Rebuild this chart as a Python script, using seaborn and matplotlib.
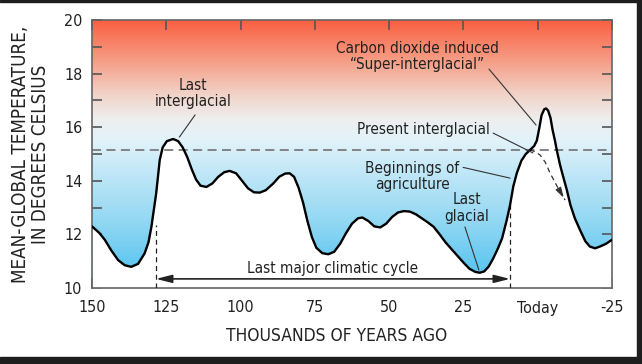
import numpy as np
import matplotlib.pyplot as plt
import seaborn as sns
from matplotlib.colors import LinearSegmentedColormap
from matplotlib.patches import Rectangle

# temperature curve (thousands of years ago, deg C)
years_ago = [150, 147.5, 145.7, 143.5, 141.2, 139, 136.8, 134.5, 132.3, 131, 130,
             128.4, 127.2, 126.2, 124.8, 122.7, 121, 119.5, 118, 116.5, 115,
             113.5, 111.5, 109.5, 107.5, 105.5, 103.7, 101.5, 99.5, 97.5, 95.5,
             93.5, 91.5, 89, 87, 85, 83.5, 82, 80.5, 79, 77.5, 76, 74.5, 72.5,
             70.5, 68.5, 66.5, 64.5, 62.5, 60.5, 59, 57, 55, 53, 51, 49, 47, 45,
             43, 41, 39, 37, 35, 33, 31, 29, 27, 25, 23, 21, 19.5, 18, 16.5, 15,
             13.5, 12, 10.5, 9.3, 8.2, 7, 5.5, 4, 2.6, 1.2, 0.3, -0.5, -1.3,
             -2.2, -2.8, -3.5, -4.3, -5.0, -5.8, -6.4, -7.5, -8.7, -9.8, -11,
             -12.5, -14.3, -16, -17.5, -19.3, -21, -23, -25]
temperature = [12.3, 12.05, 11.8, 11.4, 11.04, 10.85, 10.79, 10.9, 11.29, 11.7, 12.29,
               13.53, 14.78, 15.25, 15.48, 15.56, 15.48, 15.25, 14.9, 14.45, 14.05,
               13.82, 13.77, 13.9, 14.15, 14.32, 14.37, 14.28, 14.0, 13.72, 13.57,
               13.56, 13.65, 13.9, 14.15, 14.27, 14.28, 14.15, 13.75, 13.2, 12.5,
               11.9, 11.5, 11.3, 11.26, 11.35, 11.65, 12.05, 12.4, 12.6, 12.63,
               12.5, 12.3, 12.26, 12.4, 12.65, 12.82, 12.87, 12.85, 12.75, 12.6,
               12.45, 12.28, 12.0, 11.7, 11.45, 11.2, 10.95, 10.72, 10.6, 10.57,
               10.62, 10.8, 11.1, 11.45, 11.85, 12.5, 13.1, 13.8, 14.3, 14.75,
               15.0, 15.15, 15.3, 15.5, 15.95, 16.45, 16.67, 16.7, 16.62, 16.35,
               15.9, 15.5, 15.15, 14.6, 14.1, 13.66, 13.1, 12.6, 12.15, 11.75,
               11.55, 11.48, 11.55, 11.65, 11.8]

# natural trend (dashed) after the present interglacial
trend_years = [2.6, 0.9, -0.8, -2.5, -4.2, -6.5, -9.2]
trend_temp = [15.15, 15.09, 14.96, 14.7, 14.28, 13.8, 13.28]

present_level = 15.15
cycle_start = 128.5
cycle_end = 9.3

x_ticks = [150, 125, 100, 75, 50, 25, 0, -25]
x_labels = ["150", "125", "100", "75", "50", "25", "Today", "-25"]
y_ticks = [10, 12, 14, 16, 18, 20]
y_minor = [11, 13, 15, 17, 19]

sns.set_theme(style="ticks")
plt.rcParams['font.family'] = ['DejaVu Sans']
plt.rcParams['font.stretch'] = 'condensed'

fig = plt.figure(figsize=(6.42, 3.64), dpi=100)
ax = fig.add_axes([92 / 642, 76 / 364, 520 / 642, 268 / 364])

cmap = LinearSegmentedColormap.from_list("temp", [
    (0.0, "#4ec3f0"), (0.1, "#66c9f0"), (0.25, "#93d8f3"), (0.45, "#c6e9f8"),
    (0.55, "#e2f3fa"), (0.63, "#eeeeee"), (0.72, "#f1d3c8"), (0.85, "#f59c84"),
    (1.0, "#fb5e40")])
grad = np.linspace(0, 1, 256).reshape(-1, 1)
ax.imshow(grad, extent=[150, -25, 10, 20], origin="lower", aspect="auto",
          cmap=cmap, zorder=0)
ax.fill_between(years_ago, 10, temperature, color="white", lw=0, zorder=1)
sns.lineplot(x=years_ago, y=temperature, sort=False, estimator=None,
             color="black", lw=1.7, ax=ax, zorder=4)

ax.axhline(present_level, color="#7a7a7a", lw=1.3, dashes=(5, 3), zorder=2)

# dashed natural trend with arrow head
ax.plot(trend_years, trend_temp, color="#333333", lw=0.9, dashes=(4, 3), zorder=3)
ax.annotate("", xy=(trend_years[-1], trend_temp[-1]),
            xytext=(trend_years[-2], trend_temp[-2]),
            arrowprops=dict(arrowstyle="-|>,head_length=0.5,head_width=0.15",
                            color="#333333", lw=0.9))

# last major climatic cycle
ax.plot([cycle_start, cycle_start], [10, 12.35], color="#222222", lw=0.9,
        dashes=(4, 3), zorder=3)
ax.plot([cycle_end, cycle_end], [10, 13.1], color="#222222", lw=0.9,
        dashes=(4, 3), zorder=3)
ax.annotate("", xy=(cycle_start, 10.34), xytext=(cycle_end, 10.34),
            arrowprops=dict(arrowstyle="<|-|>,head_length=0.8,head_width=0.2",
                            color="#222222", lw=1.2, shrinkA=0, shrinkB=0))
ax.text(69, 10.72, "Last major climatic cycle", ha="center", va="center",
        fontsize=11, color="#222222")

lead = dict(color="#333333", lw=0.8, zorder=5)
txt = dict(ha="center", va="center", fontsize=11, color="#222222", linespacing=1.15)
ax.text(116, 17.26, "Last\ninterglacial", **txt)
ax.plot([115.3, 120.6], [16.46, 15.63], **lead)
ax.text(40.6, 18.64, "Carbon dioxide induced\n\u201cSuper-interglacial\u201d", **txt)
ax.plot([16.4, 0.55], [18.17, 16.08], **lead)
ax.text(38.6, 15.9, "Present interglacial", **txt)
ax.plot([15.0, 1.6], [15.78, 15.04], **lead)
ax.text(42.3, 14.16, "Beginnings of\nagriculture", **txt)
ax.plot([25.1, 9.3], [14.5, 14.1], **lead)
ax.text(23.8, 12.99, "Last\nglacial", **txt)
ax.plot([24.5, 19.8], [12.28, 10.67], **lead)

ax.set_xlim(150, -25)
ax.set_ylim(10, 20)
ax.set_xticks(x_ticks)
ax.set_xticklabels(x_labels)
ax.set_yticks(y_ticks)
ax.set_yticks(y_minor, minor=True)
ax.tick_params(which="both", direction="in", top=True, right=True,
               length=7, width=1.2, color="#555555", labelsize=11.5,
               labelcolor="#222222")
ax.tick_params(axis="x", pad=9)
ax.tick_params(axis="y", pad=7)
for s in ax.spines.values():
    s.set_color("#666666")
    s.set_linewidth(1.2)

ax.set_ylabel("MEAN-GLOBAL TEMPERATURE,\nIN DEGREES CELSIUS", fontsize=13.5,
              color="#222222", linespacing=1.05, labelpad=10)
ax.set_xlabel("THOUSANDS OF YEARS AGO", fontsize=12.5, color="#222222",
              labelpad=8, x=0.47)

# dark screenshot frame
for r in [(0, 0, 1, 7 / 364), (637 / 642, 0, 5 / 642, 1), (0, 1 - 2 / 364, 1, 2 / 364)]:
    fig.patches.append(Rectangle(r[:2], r[2], r[3], transform=fig.transFigure,
                                 color="#1e1e1e", zorder=10))

fig.savefig("out.png", dpi=100)
